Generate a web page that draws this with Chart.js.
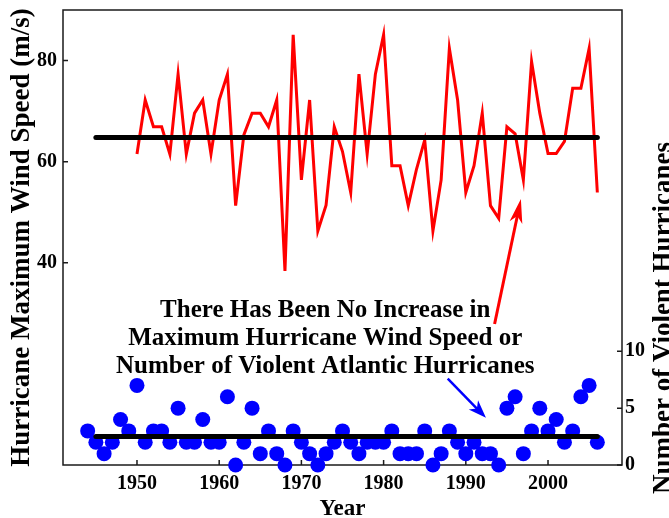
<!DOCTYPE html>
<html><head><meta charset="utf-8">
<script src="https://cdn.jsdelivr.net/npm/chart.js@4/dist/chart.umd.min.js"></script>
<style>html,body{margin:0;padding:0;background:#fff;overflow:hidden}#wrap{width:669px;height:518px;position:relative}</style>
</head><body><div id="wrap"><canvas id="c"></canvas></div>
<script>
// ---- data ----
const windYears = [1950,1951,1952,1953,1954,1955,1956,1957,1958,1959,1960,1961,1962,1963,1964,1965,1966,1967,1968,1969,1970,1971,1972,1973,1974,1975,1976,1977,1978,1979,1980,1981,1982,1983,1984,1985,1986,1987,1988,1989,1990,1991,1992,1993,1994,1995,1996,1997,1998,1999,2000,2001,2002,2003,2004,2005,2006];
const windSpeeds = [61.5,72.2,66.9,66.9,61.5,77.3,61.5,69.6,72.2,61.5,72.2,77.3,51.3,65.3,69.6,69.6,66.9,72.2,38.4,85.1,56.4,72.2,46.3,51.4,66.9,62.0,53.9,77.3,61.5,77.3,85.1,59.2,59.2,51.3,58.5,64.3,46.3,56.4,82.4,72.2,53.9,59.2,69.6,51.3,48.8,66.9,65.5,56.4,79.8,69.6,61.6,61.6,64.0,74.5,74.5,82.4,53.9];
const countYears = [1944,1945,1946,1947,1948,1949,1950,1951,1952,1953,1954,1955,1956,1957,1958,1959,1960,1961,1962,1963,1964,1965,1966,1967,1968,1969,1970,1971,1972,1973,1974,1975,1976,1977,1978,1979,1980,1981,1982,1983,1984,1985,1986,1987,1988,1989,1990,1991,1992,1993,1994,1995,1996,1997,1998,1999,2000,2001,2002,2003,2004,2005,2006];
const violentCounts = [3,2,1,2,4,3,7,2,3,3,2,5,2,2,4,2,2,6,0,2,5,1,3,1,0,3,2,1,0,1,2,3,2,1,2,2,2,3,1,1,1,3,0,1,3,2,1,2,1,1,0,5,6,1,3,5,3,4,2,3,6,7,2];
const meanYears = [1945, 2006];
const windMean = 64.8;
const countMean = 2.5;
const xTicks = [1950,1960,1970,1980,1990,2000];
const windTicks = [40,60,80];
const countTicks = [0,5,10];
const noteLines = ['There Has Been No Increase in','Maximum Hurricane Wind Speed or','Number of Violent Atlantic Hurricanes'];
// arrow ends in data units: [yearFrom, valFrom, yearTo, valTo]
const redArrow = [1993.5, 27.9, 1996.7, 52.6];   // left axis units
const blueArrow = [1987.8, 7.6, 1992.45, 4.15];  // right axis units

const SERIF = '"Liberation Serif","Times New Roman",serif';
const pts = (xs, ys) => xs.map((x, i) => ({x, y: ys[i]}));

function arrow(ctx, x1, y1, x2, y2, color, lw, hl, hw) {
  const a = Math.atan2(y2 - y1, x2 - x1), ux = Math.cos(a), uy = Math.sin(a);
  ctx.strokeStyle = color; ctx.fillStyle = color; ctx.lineWidth = lw; ctx.lineCap = 'butt';
  ctx.beginPath(); ctx.moveTo(x1, y1); ctx.lineTo(x2 - ux * hl * 0.7, y2 - uy * hl * 0.7); ctx.stroke();
  ctx.beginPath(); ctx.moveTo(x2, y2);
  ctx.lineTo(x2 - ux * hl - uy * hw, y2 - uy * hl + ux * hw);
  ctx.lineTo(x2 - ux * hl * 0.72, y2 - uy * hl * 0.72);
  ctx.lineTo(x2 - ux * hl + uy * hw, y2 - uy * hl - ux * hw);
  ctx.closePath(); ctx.fill();
}

const noPad = s => { s.paddingTop = 0; s.paddingBottom = 0; s.paddingLeft = 0; s.paddingRight = 0; };

const overlay = {
  id: 'overlay',
  beforeDatasetsDraw(chart) {
    const {ctx, chartArea: a, scales} = chart;
    ctx.save();
    ctx.strokeStyle = '#1a1a1a'; ctx.lineWidth = 1.5;
    ctx.strokeRect(a.left, a.top, a.right - a.left, a.bottom - a.top);
    ctx.beginPath();
    scales.x.ticks.forEach(t => { const p = scales.x.getPixelForValue(t.value); ctx.moveTo(p, a.bottom); ctx.lineTo(p, a.bottom - 5); });
    scales.yL.ticks.forEach(t => { const p = scales.yL.getPixelForValue(t.value); ctx.moveTo(a.left, p); ctx.lineTo(a.left + 5, p); });
    scales.yR.ticks.forEach(t => { const p = scales.yR.getPixelForValue(t.value); ctx.moveTo(a.right, p); ctx.lineTo(a.right - 5, p); });
    ctx.stroke();
    ctx.restore();
  },
  afterDraw(chart) {
    const {ctx, scales} = chart;
    const X = scales.x, L = scales.yL, R = scales.yR;
    ctx.save();
    // arrows
    arrow(ctx, X.getPixelForValue(redArrow[0]), L.getPixelForValue(redArrow[1]), X.getPixelForValue(redArrow[2]), L.getPixelForValue(redArrow[3]), '#ff0000', 3, 24, 6.5);
    arrow(ctx, X.getPixelForValue(blueArrow[0]), R.getPixelForValue(blueArrow[1]), X.getPixelForValue(blueArrow[2]), R.getPixelForValue(blueArrow[3]), '#0000ff', 2.5, 18, 6.5);
    // note text
    ctx.fillStyle = '#000';
    ctx.font = 'bold 25px ' + SERIF;
    ctx.textAlign = 'center'; ctx.textBaseline = 'alphabetic';
    const cx = X.getPixelForValue(1972.9);
    noteLines.forEach((s, i) => ctx.fillText(s, cx, 317 + i * 28));
    // right axis title (reads bottom-to-top)
    ctx.fillStyle = '#000';
    ctx.translate(671, 318);
    ctx.rotate(-Math.PI / 2);
    ctx.font = 'bold 27px ' + SERIF;
    ctx.textAlign = 'center'; ctx.textBaseline = 'alphabetic';
    ctx.fillText('Number of Violent Hurricanes', 0, 0);
    ctx.restore();
  }
};

const tickFont = {family: SERIF, size: 20, weight: 'bold'};

new Chart(document.getElementById('c'), {
  type: 'line',
  data: {
    datasets: [
      {label: 'windMean', data: pts(meanYears, [windMean, windMean]), yAxisID: 'yL', borderColor: '#000', borderWidth: 5, borderCapStyle: 'round', pointRadius: 0, order: 0, clip: false},
      {label: 'countMean', data: pts(meanYears, [countMean, countMean]), yAxisID: 'yR', borderColor: '#000', borderWidth: 5, borderCapStyle: 'round', pointRadius: 0, order: 0, clip: false},
      {label: 'violent', data: pts(countYears, violentCounts), yAxisID: 'yR', showLine: false, pointRadius: 7.5, pointBorderWidth: 0, pointBackgroundColor: '#0000ff', borderColor: '#0000ff', order: 1, clip: false},
      {label: 'wind', data: pts(windYears, windSpeeds), yAxisID: 'yL', borderColor: '#ff0000', borderWidth: 3, borderJoinStyle: 'miter', pointRadius: 0, tension: 0, order: 2, clip: false}
    ]
  },
  options: {
    responsive: true, maintainAspectRatio: false, animation: false,
    layout: {padding: {top: 10, left: 0, right: 0, bottom: 0}},
    plugins: {legend: {display: false}, tooltip: {enabled: false}},
    scales: {
      x: {
        type: 'linear', position: 'bottom', min: 1941, max: 2009,
        afterBuildTicks: s => { s.ticks = xTicks.map(v => ({value: v})); },
        afterFit: s => { s.height = 53; noPad(s); },
        grid: {display: false, drawTicks: false}, border: {display: false},
        ticks: {font: tickFont, color: '#000', padding: 7, maxRotation: 0, autoSkip: false, callback: v => String(v)},
        title: {display: true, text: 'Year', color: '#000', font: {family: SERIF, size: 23, weight: 'bold', lineHeight: 1}, padding: {top: 0, bottom: -3}}
      },
      yL: {
        type: 'linear', position: 'left', min: 0, max: 90,
        afterBuildTicks: s => { s.ticks = windTicks.map(v => ({value: v})); },
        afterFit: s => { s.width = 63; noPad(s); },
        grid: {display: false, drawTicks: false}, border: {display: false},
        ticks: {font: tickFont, color: '#000', padding: 6, autoSkip: false},
        title: {display: true, text: 'Hurricane Maximum Wind Speed (m/s)', color: '#000', font: {family: SERIF, size: 27, weight: 'bold', lineHeight: 1}, padding: {top: 9, bottom: 0}}
      },
      yR: {
        type: 'linear', position: 'right', min: 0, max: 40,
        afterBuildTicks: s => { s.ticks = countTicks.map(v => ({value: v})); },
        afterFit: s => { s.width = 47; noPad(s); },
        grid: {display: false, drawTicks: false}, border: {display: false},
        ticks: {font: tickFont, color: '#000', padding: 3, autoSkip: false}
      }
    }
  },
  plugins: [overlay]
});
</script>
</body></html>
